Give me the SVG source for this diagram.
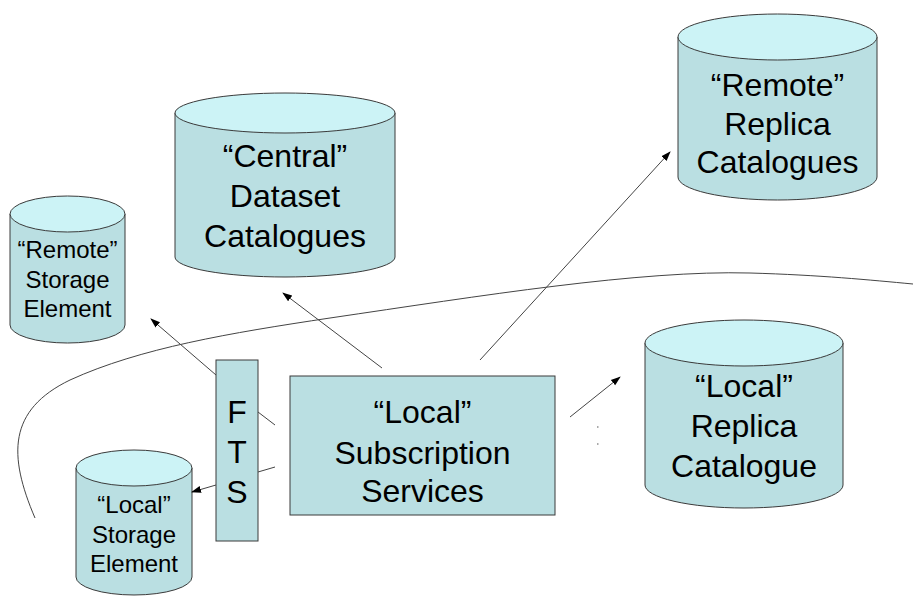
<svg xmlns="http://www.w3.org/2000/svg" width="913" height="597" viewBox="0 0 913 597">
  <style>
    .body { fill: #BADFE2; stroke: #3a3a3a; stroke-width: 1; }
    .top { fill: #CCF3F6; stroke: #3a3a3a; stroke-width: 1; }
    .lbl { font-family: "Liberation Sans", Arial, sans-serif; fill: #000; text-anchor: middle; }
    .big { font-size: 32px; }
    .small { font-size: 24px; }
    .conn { stroke: #444; stroke-width: 1; fill: none; }
  </style>
  <defs>
    <marker id="arrow" markerWidth="10" markerHeight="8" refX="9" refY="4" orient="auto" markerUnits="userSpaceOnUse">
      <path d="M0,0.5 L10,4 L0,7.5 z" fill="#000"/>
    </marker>
  </defs>
  <rect width="913" height="597" fill="#fff"/>

  <!-- boundary curve -->
  <path class="conn" d="M35,518 C8,455 8,410 70,380 C140,348 230,333 330,318 C480,296 640,270 750,273 C820,275 870,280 913,284"/>

  <g id="remote-storage">
    <path class="body" d="M10,214 L10,325 A57.5,18 0 0 0 125,325 L125,214 Z"/>
    <ellipse class="top" cx="67.5" cy="214" rx="57.5" ry="18"/>
    <text class="lbl small" x="67.5" y="258">“Remote”</text>
    <text class="lbl small" x="67.5" y="288">Storage</text>
    <text class="lbl small" x="67.5" y="317">Element</text>
  </g>

  <g id="central-dataset">
    <path class="body" d="M175,113 L175,257 A110,20 0 0 0 395,257 L395,113 Z"/>
    <ellipse class="top" cx="285" cy="113" rx="110" ry="20"/>
    <text class="lbl big" x="285" y="167">“Central”</text>
    <text class="lbl big" x="285" y="207">Dataset</text>
    <text class="lbl big" x="285" y="247">Catalogues</text>
  </g>

  <g id="remote-replica">
    <path class="body" d="M678,37 L678,177 A99.5,23 0 0 0 877,177 L877,37 Z"/>
    <ellipse class="top" cx="777.5" cy="37" rx="99.5" ry="23"/>
    <text class="lbl big" x="777.5" y="96">“Remote”</text>
    <text class="lbl big" x="777.5" y="135">Replica</text>
    <text class="lbl big" x="777.5" y="173">Catalogues</text>
  </g>

  <g id="local-replica">
    <path class="body" d="M645,343 L645,485 A99,23 0 0 0 843,485 L843,343 Z"/>
    <ellipse class="top" cx="744" cy="343" rx="99" ry="23"/>
    <text class="lbl big" x="744" y="397">“Local”</text>
    <text class="lbl big" x="744" y="437">Replica</text>
    <text class="lbl big" x="744" y="477">Catalogue</text>
  </g>

  <g id="local-storage">
    <path class="body" d="M76,468 L76,577 A58,18 0 0 0 192,577 L192,468 Z"/>
    <ellipse class="top" cx="134" cy="468" rx="58" ry="18"/>
    <text class="lbl small" x="134" y="513">“Local”</text>
    <text class="lbl small" x="134" y="543">Storage</text>
    <text class="lbl small" x="134" y="572">Element</text>
  </g>

  <g id="fts">
    <rect class="body" x="216" y="360" width="42" height="181"/>
    <text class="lbl big" x="237" y="423">F</text>
    <text class="lbl big" x="237" y="463">T</text>
    <text class="lbl big" x="237" y="503">S</text>
  </g>

  <g id="subscription">
    <rect class="body" x="290" y="376" width="265" height="139"/>
    <text class="lbl big" x="422.5" y="423">“Local”</text>
    <text class="lbl big" x="422.5" y="464">Subscription</text>
    <text class="lbl big" x="422.5" y="502">Services</text>
  </g>

  <g id="connectors">
    <line class="conn" x1="382" y1="368" x2="283" y2="293" marker-end="url(#arrow)"/>
    <line class="conn" x1="480" y1="360" x2="670" y2="152" marker-end="url(#arrow)"/>
    <line class="conn" x1="570" y1="417" x2="620" y2="377" marker-end="url(#arrow)"/>
    <line class="conn" x1="216" y1="375" x2="151" y2="319" marker-end="url(#arrow)"/>
    <line class="conn" x1="275" y1="425" x2="258" y2="412"/>
    <line class="conn" x1="275" y1="467" x2="258" y2="472"/>
    <line class="conn" x1="216" y1="485" x2="192" y2="492" marker-end="url(#arrow)"/>
  </g>

  <!-- faint marks -->
  <rect x="597" y="426" width="1.5" height="2" fill="#aaa"/>
  <rect x="597" y="443" width="1.5" height="2" fill="#aaa"/>
</svg>
